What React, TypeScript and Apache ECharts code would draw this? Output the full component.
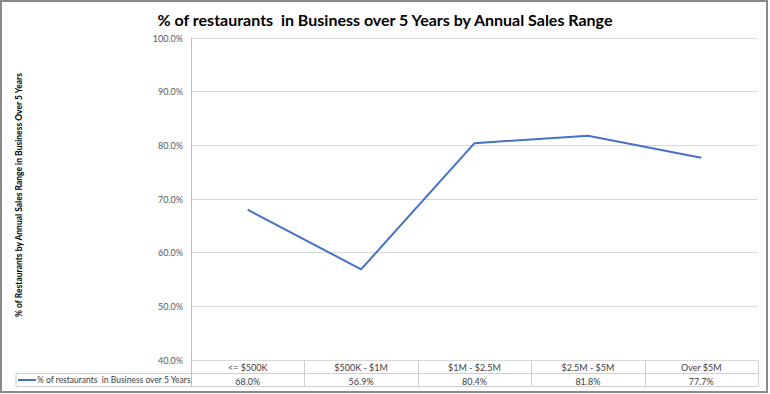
import React, { useEffect, useRef } from "react";
import * as echarts from "echarts";

const titleText = "% of restaurants  in Business over 5 Years by Annual Sales Range";
const yAxisTitle = "% of Restaurants by Annual Sales Range in Business Over 5 Years";
const seriesName = "% of restaurants  in Business over 5 Years";
const categories = ["<= $500K", "$500K - $1M", "$1M - $2.5M", "$2.5M - $5M", "Over $5M"];
const values = [68.0, 56.9, 80.4, 81.8, 77.7];
const yMin = 40;
const yMax = 100;
const yInterval = 10;

const GRID_LEFT = 191;
const GRID_TOP = 38;
const GRID_W = 567;
const GRID_H = 322;
const ROW1 = GRID_TOP + GRID_H; // 360
const ROW2 = 373.5;
const ROW3 = 386.5;
const LEG_LEFT = 16;
const TABLE_COLOR = "#cfcfcf";
const FONT = "Lato, 'Open Sans', sans-serif";

export default function App() {
  const ref = useRef<HTMLDivElement>(null);
  useEffect(() => {
    if (!ref.current) return;
    const chart = echarts.init(ref.current, null, { renderer: "svg" });
    const colW = GRID_W / categories.length;
    const right = GRID_LEFT + GRID_W;
    const lines: any[] = [];
    const ln = (x1: number, y1: number, x2: number, y2: number, color = TABLE_COLOR) => ({
      type: "line",
      silent: true,
      shape: { x1, y1, x2, y2 },
      style: { stroke: color, lineWidth: 1 },
      z: 1,
    });
    lines.push(ln(LEG_LEFT, ROW2, right, ROW2));
    lines.push(ln(LEG_LEFT, ROW3, right, ROW3));
    lines.push(ln(LEG_LEFT, ROW2, LEG_LEFT, ROW3));
    for (let i = 0; i <= categories.length; i++) {
      const x = Math.round(GRID_LEFT + i * colW) + 0.5;
      lines.push(ln(x, ROW1, x, ROW3, i === 0 ? "#bfbfbf" : TABLE_COLOR));
    }
    lines.push({
      type: "rect",
      silent: true,
      shape: { x: 1, y: 1, width: 766, height: 391 },
      style: { stroke: "#8a8a8a", lineWidth: 2, fill: "none" },
      z: 0,
    });
    lines.push({
      type: "text",
      silent: true,
      x: 19,
      y: 195,
      rotation: Math.PI / 2,
      style: {
        text: yAxisTitle,
        fontSize: 8.5,
        fontWeight: "bold",
        fill: "#000000",
        fontFamily: FONT,
        align: "center",
        verticalAlign: "middle",
      },
    });

    chart.setOption({
      animation: false,
      backgroundColor: "#ffffff",
      textStyle: { fontFamily: FONT },
      title: {
        text: titleText,
        left: "center",
        top: 6,
        textStyle: { fontSize: 16, fontWeight: "bold", color: "#000000", fontFamily: FONT },
      },
      legend: {
        left: LEG_LEFT + 2,
        top: ROW2 + 2,
        padding: 0,
        itemWidth: 18,
        itemHeight: 2,
        itemGap: 0,
        icon: "rect",
        textStyle: { fontSize: 8.5, color: "#404040", padding: [0, 0, 0, -4], fontFamily: FONT },
        data: [seriesName],
      },
      grid: { left: GRID_LEFT, top: GRID_TOP, width: GRID_W, height: GRID_H },
      xAxis: [
        {
          type: "category",
          data: categories,
          boundaryGap: true,
          axisLine: { show: false },
          axisTick: { show: false },
          axisLabel: { margin: 3, fontSize: 9, color: "#404040", interval: 0, fontFamily: FONT },
        },
        {
          type: "category",
          data: values.map((v) => v.toFixed(1) + "%"),
          position: "bottom",
          offset: 13.5,
          boundaryGap: true,
          axisLine: { show: false },
          axisTick: { show: false },
          axisLabel: { margin: 3, fontSize: 9, color: "#404040", interval: 0, fontFamily: FONT },
        },
      ],
      yAxis: {
        type: "value",
        min: yMin,
        max: yMax,
        interval: yInterval,
        axisLine: { show: true, lineStyle: { color: "#bfbfbf" } },
        axisTick: { show: false },
        axisLabel: {
          margin: 8,
          fontSize: 9,
          color: "#595959",
          fontFamily: FONT,
          formatter: (v: number) => v.toFixed(1) + "%",
        },
        splitLine: { show: true, lineStyle: { color: "#d9d9d9" } },
      },
      series: [
        {
          name: seriesName,
          type: "line",
          xAxisIndex: 0,
          data: values,
          symbol: "none",
          lineStyle: { color: "#4472C4", width: 2 },
          itemStyle: { color: "#4472C4" },
        },
      ],
      graphic: lines,
    });
    return () => chart.dispose();
  }, []);
  return (
    <div
      ref={ref}
      style={{ position: "fixed", left: 0, top: 0, width: 770, height: 394 }}
    />
  );
}
